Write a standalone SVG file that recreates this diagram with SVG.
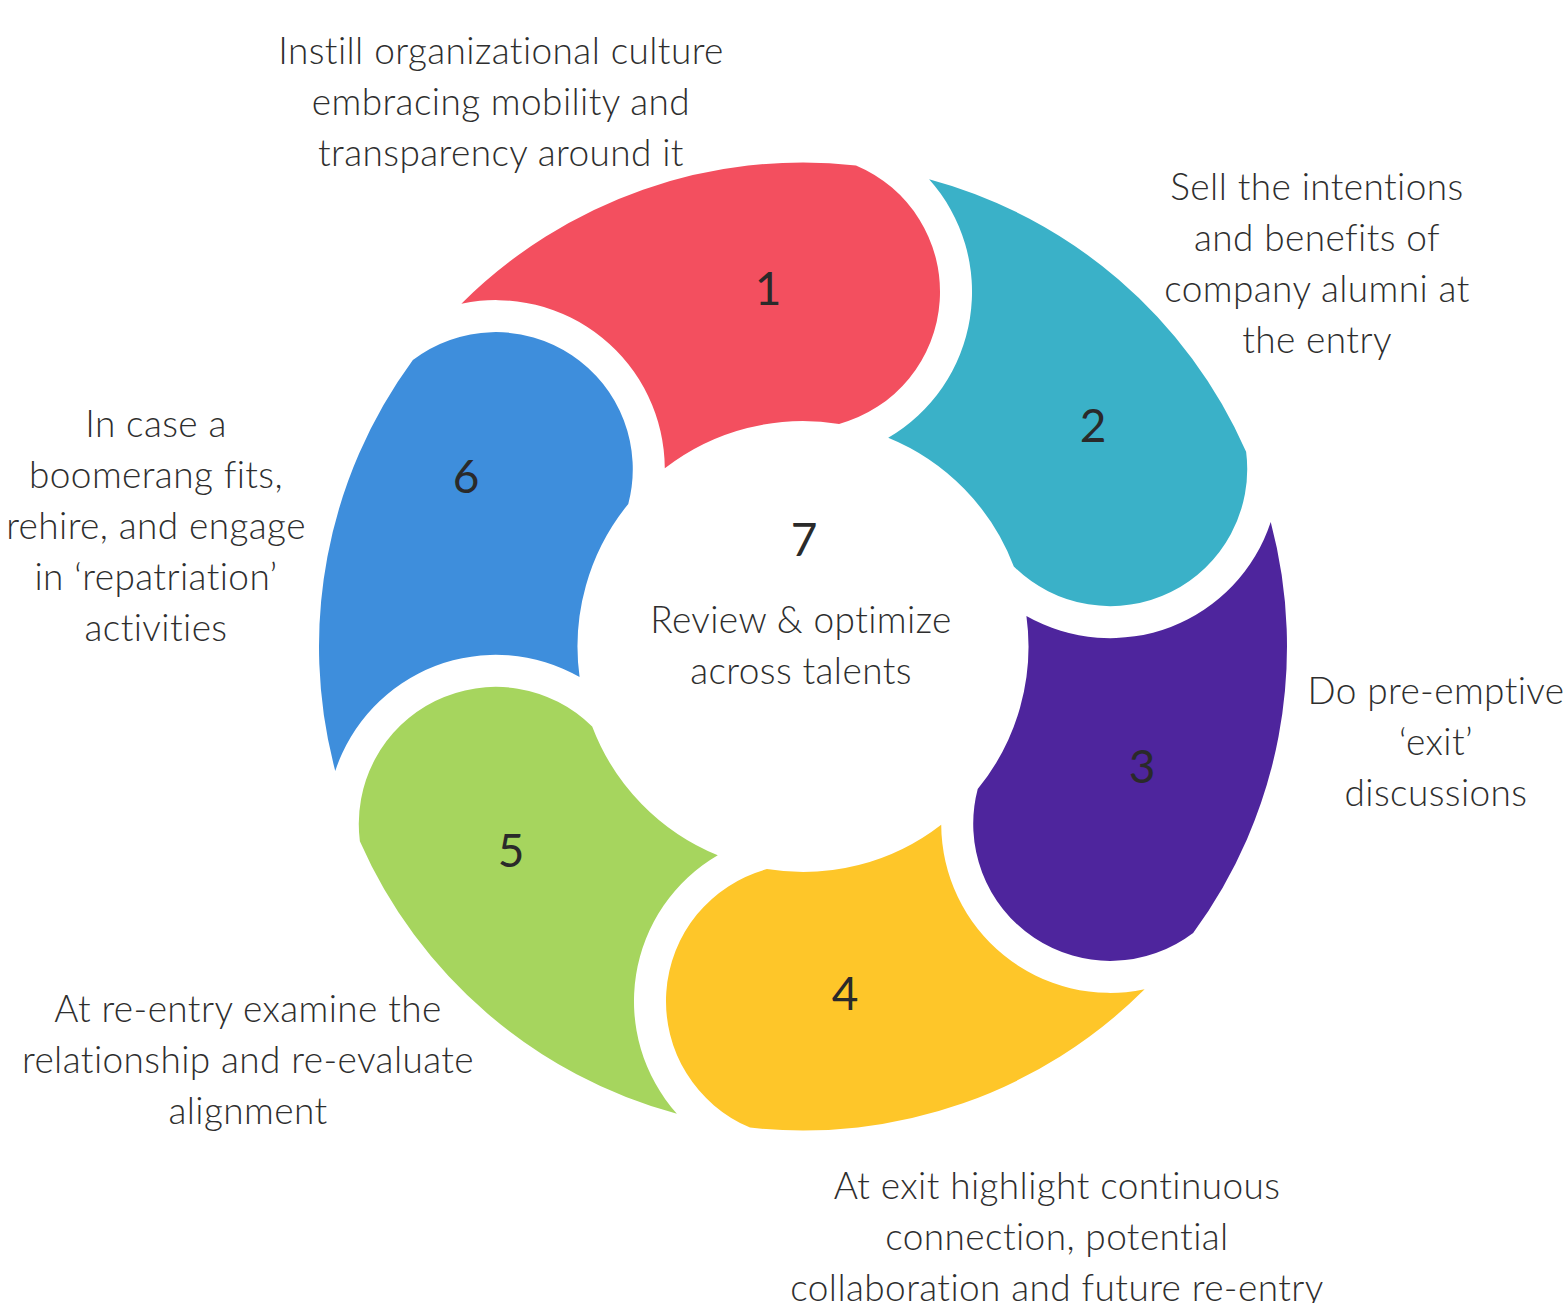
<svg xmlns="http://www.w3.org/2000/svg" xmlns:xlink="http://www.w3.org/1999/xlink" width="1568" height="1303" viewBox="0 0 1568 1303">
<style>
.lbl{font-family:Lato,"Noto Sans","Liberation Sans",sans-serif;font-size:37px;letter-spacing:0.4px;fill:#2e2e2e;text-anchor:middle;font-weight:300}
.num{font-family:Lato,"Noto Sans","Liberation Sans",sans-serif;font-size:46px;fill:#2a2a2a;text-anchor:middle}
</style>
<defs>
<path id="seg" d="M 342.84 -341.64 A 484 484 0 0 1 481.09 52.98 A 137 137 0 0 1 222.59 36.10 A 225.5 225.5 0 0 0 178.18 -138.21 A 169 169 0 0 0 342.84 -341.64 Z"/>
</defs>
<rect width="1568" height="1303" fill="#ffffff"/>
<g id="connectors"></g>
<g id="node1">
<use xlink:href="#seg" href="#seg" transform="translate(803 646.5) rotate(-90)" fill="#F34F5F"/>
<text class="num" x="768" y="305">1</text>
<text class="lbl"><tspan x="501" y="64">Instill organizational culture</tspan><tspan x="501" y="115">embracing mobility and</tspan><tspan x="501" y="166">transparency around it</tspan></text>
</g>
<g id="node2">
<use xlink:href="#seg" href="#seg" transform="translate(803 646.5) rotate(-30)" fill="#3AB1C8"/>
<text class="num" x="1093" y="442">2</text>
<text class="lbl"><tspan x="1317" y="200">Sell the intentions</tspan><tspan x="1317" y="251">and benefits of</tspan><tspan x="1317" y="302">company alumni at</tspan><tspan x="1317" y="353">the entry</tspan></text>
</g>
<g id="node3">
<use xlink:href="#seg" href="#seg" transform="translate(803 646.5) rotate(30)" fill="#4E259D"/>
<text class="num" x="1142" y="783">3</text>
<text class="lbl"><tspan x="1436" y="704">Do pre-emptive</tspan><tspan x="1436" y="755">‘exit’</tspan><tspan x="1436" y="806">discussions</tspan></text>
</g>
<g id="node4">
<use xlink:href="#seg" href="#seg" transform="translate(803 646.5) rotate(90)" fill="#FEC629"/>
<text class="num" x="845" y="1010">4</text>
<text class="lbl"><tspan x="1057" y="1199">At exit highlight continuous</tspan><tspan x="1057" y="1250">connection, potential</tspan><tspan x="1057" y="1301">collaboration and future re-entry</tspan></text>
</g>
<g id="node5">
<use xlink:href="#seg" href="#seg" transform="translate(803 646.5) rotate(150)" fill="#A6D55E"/>
<text class="num" x="511" y="867">5</text>
<text class="lbl"><tspan x="248" y="1022">At re-entry examine the</tspan><tspan x="248" y="1073">relationship and re-evaluate</tspan><tspan x="248" y="1124">alignment</tspan></text>
</g>
<g id="node6">
<use xlink:href="#seg" href="#seg" transform="translate(803 646.5) rotate(210)" fill="#3E8EDC"/>
<text class="num" x="466" y="493">6</text>
<text class="lbl"><tspan x="156" y="437">In case a</tspan><tspan x="156" y="488">boomerang fits,</tspan><tspan x="156" y="539">rehire, and engage</tspan><tspan x="156" y="590">in ‘repatriation’</tspan><tspan x="156" y="641">activities</tspan></text>
</g>
<g id="node7">
<text class="num" x="804" y="556">7</text>
<text class="lbl"><tspan x="801" y="633">Review &amp; optimize</tspan><tspan x="801" y="684">across talents</tspan></text>
</g>
</svg>
